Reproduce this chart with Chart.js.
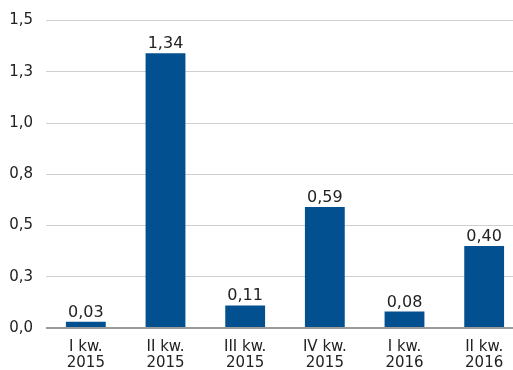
<!DOCTYPE html>
<html>
<head>
<meta charset="utf-8">
<script src="https://cdn.jsdelivr.net/npm/chart.js@4"></script>
<style>
  html, body { margin: 0; padding: 0; background: #fff; overflow: hidden; }
  #wrap { width: 524px; height: 382px; }
</style>
</head>
<body>
<div id="wrap"><canvas id="chart"></canvas></div>
<script>
    const categories = [['I kw.', '2015'], ['II kw.', '2015'], ['III kw.', '2015'], ['IV kw.', '2015'], ['I kw.', '2016'], ['II kw.', '2016']];
    const values = [0.03, 1.34, 0.11, 0.59, 0.08, 0.40];
    const valueLabels = ['0,03', '1,34', '0,11', '0,59', '0,08', '0,40'];
    const yTickLabels = ['0,0', '0,3', '0,5', '0,8', '1,0', '1,3', '1,5'];

    const fontFamily = "DejaVu Sans";

    // draws the value above each bar
    const barLabels = {
      id: 'barLabels',
      afterDatasetsDraw(chart) {
        const ctx = chart.ctx;
        const meta = chart.getDatasetMeta(0);
        ctx.save();
        ctx.font = '16px "' + fontFamily + '"';
        ctx.fillStyle = '#222';
        ctx.textAlign = 'center';
        ctx.textBaseline = 'alphabetic';
        meta.data.forEach((bar, i) => {
          ctx.fillText(valueLabels[i], bar.x, bar.y - 5);
        });
        ctx.restore();
      }
    };

    function drawChart() {
      new Chart(document.getElementById('chart'), {
        type: 'bar',
        data: {
          labels: categories,
          datasets: [{
            data: values,
            backgroundColor: '#02508f',
            categoryPercentage: 1,
            barPercentage: 0.5
          }]
        },
        options: {
          responsive: true,
          maintainAspectRatio: false,
          animation: false,
          layout: { padding: { top: 20, left: 0, right: 0, bottom: 0 } },
          plugins: {
            legend: { display: false },
            tooltip: { enabled: false }
          },
          scales: {
            x: {
              grid: { display: false, drawTicks: false },
              border: { display: false },
              ticks: {
                color: '#222',
                font: { family: fontFamily, size: 15, lineHeight: '16px' },
                padding: 11,
                maxRotation: 0
              }
            },
            y: {
              min: 0,
              max: 1.5,
              border: { display: false },
              afterFit: (scale) => { scale.width = 46; },
              grid: {
                drawTicks: false,
                color: (c) => c.tick && c.tick.value === 0 ? '#9a9a9a' : '#cfcfcf',
                lineWidth: (c) => c.tick && c.tick.value === 0 ? 2 : 1
              },
              ticks: {
                stepSize: 0.25,
                color: '#222',
                padding: 13,
                font: { family: fontFamily, size: 15, lineHeight: 1.0 },
                callback: (v, i) => yTickLabels[i]
              }
            }
          }
        },
        plugins: [barLabels]
      });
    }

    document.fonts.load('15px "DejaVu Sans"').then(drawChart, drawChart);
</script>
</body>
</html>
